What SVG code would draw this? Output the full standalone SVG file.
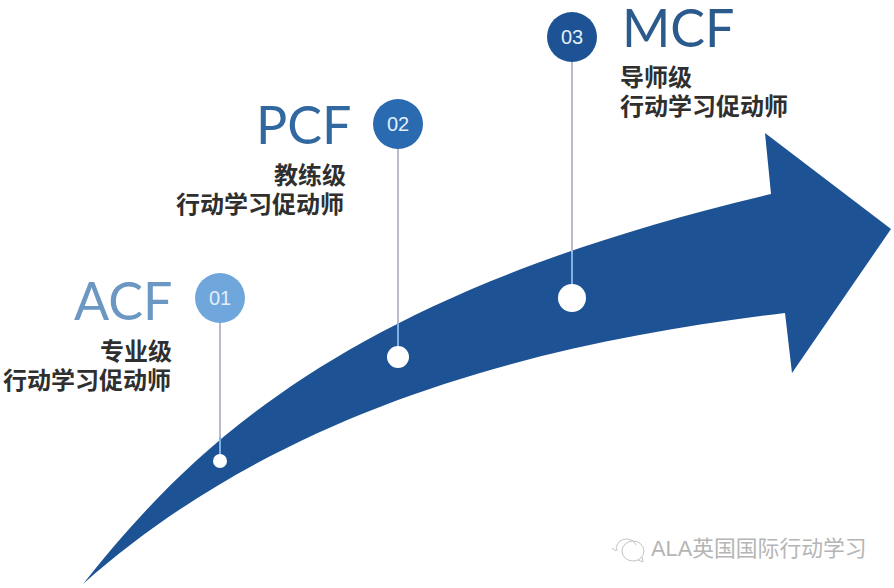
<svg xmlns="http://www.w3.org/2000/svg" width="894" height="588" viewBox="0 0 894 588">
<style>
.t{font-family:"Lato","Liberation Sans",sans-serif}
.big{font-size:52px}
.cn{font-size:24px;font-weight:700;fill:#2f2f2f;font-family:"Noto Sans CJK SC",sans-serif}
.num{font-size:20px;fill:#e4eef8;text-anchor:middle;font-family:"Liberation Sans",sans-serif}
.line{stroke:#b8bcc6;stroke-width:2;fill:none}
.in{stroke:#7fb0e4;stroke-width:2;fill:none}
.dot{fill:#fff}
</style>
<rect width="894" height="588" fill="#fff"/>
<g id="arrow"><path d="M83 584C190 450 340 295 771 194L765 133L891 229L792 373L785 313C560 340 290 400 83 584Z" fill="#1d5394"/></g>
<g id="connectors">
<line class="line" x1="220" y1="300" x2="220" y2="437"/>
<line class="in" x1="220" y1="437" x2="220" y2="460"/>
<line class="line" x1="398" y1="130" x2="398" y2="323"/>
<line class="in" x1="398" y1="323" x2="398" y2="356"/>
<line class="line" x1="572" y1="40" x2="572" y2="252"/>
<line class="in" x1="572" y1="252" x2="572" y2="298"/>
</g>
<g id="node-acf">
<circle cx="220" cy="298" r="25" fill="#6fa7dc"/>
<text class="num" x="220" y="305">01</text>
<text class="t big" x="74" y="320" fill="#6b97c2">ACF</text>
<text class="cn" x="100" y="360">专业级</text>
<text class="cn" x="3" y="389">行动学习促动师</text>
<circle class="dot" cx="220" cy="461" r="7"/>
</g>
<g id="node-pcf">
<circle cx="398" cy="124" r="25" fill="#2a6ab0"/>
<text class="num" x="398" y="131">02</text>
<text class="t big" x="256" y="144" fill="#31689f">PCF</text>
<text class="cn" x="274" y="184">教练级</text>
<text class="cn" x="176" y="213">行动学习促动师</text>
<circle class="dot" cx="398" cy="357" r="11"/>
</g>
<g id="node-mcf">
<circle cx="572" cy="37" r="25" fill="#1d5394"/>
<text class="num" x="572" y="44">03</text>
<text class="t big" x="622" y="47" fill="#2b5a8c">MCF</text>
<text class="cn" x="620" y="86">导师级</text>
<text class="cn" x="620" y="115">行动学习促动师</text>
<circle class="dot" cx="572" cy="298" r="14"/>
</g>
<g id="watermark">
<g fill="none" stroke="#c4c4c4" stroke-width="1">
<path d="M617 551a10 9 0 1 1 19 -6M612 548l4 3"/>
<ellipse cx="633" cy="551" rx="11" ry="10"/>
<path d="M638 560l5 2l-1 -5"/>
</g>
<text x="651" y="556" font-size="21.800" fill="#b5b5b5" font-family="'Liberation Sans','Noto Sans CJK SC',sans-serif">ALA英国国际行动学习</text>
</g>
</svg>
